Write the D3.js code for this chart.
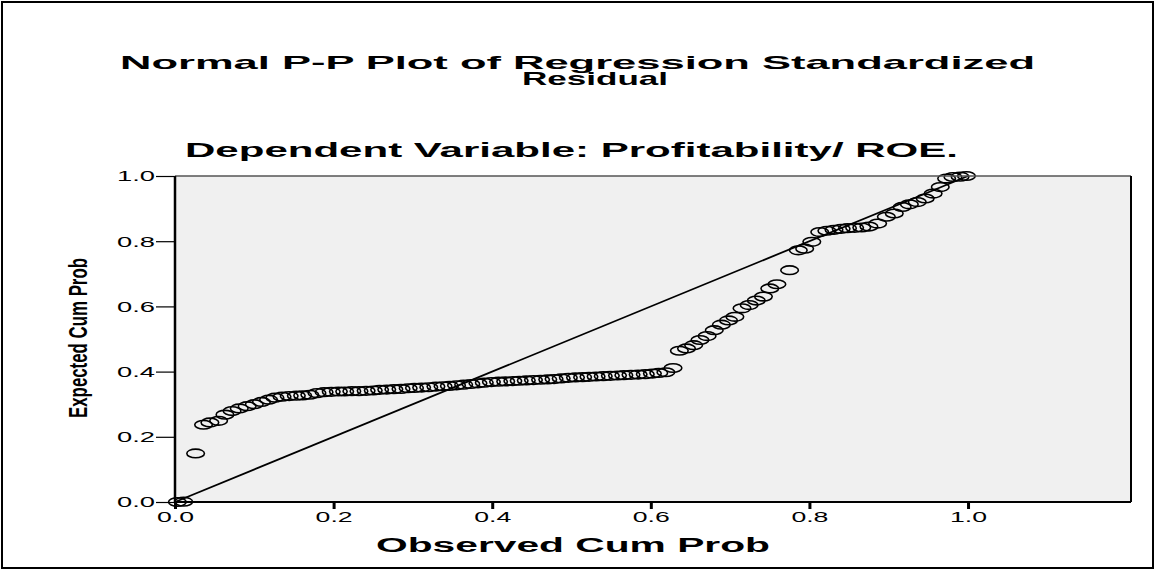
<!DOCTYPE html>
<html>
<head>
<meta charset="utf-8">
<script src="https://cdn.jsdelivr.net/npm/d3@7"></script>
<style>
html,body{margin:0;padding:0;background:#fff;}
svg{display:block;}
</style>
</head>
<body>
<svg id="chart" width="1155" height="570"></svg>
<script>
// ---- data ----
const titleLines = ["Normal P-P Plot of Regression Standardized", "Residual"];
const subtitle = "Dependent Variable: Profitability/ ROE.";
const xAxisTitle = "Observed Cum Prob";
const yAxisTitle = "Expected Cum Prob";
const xTicks = [0.0, 0.2, 0.4, 0.6, 0.8, 1.0];
const yTicks = [0.0, 0.2, 0.4, 0.6, 0.8, 1.0];
const refLine = [[0, 0], [1, 1]];

const obsCumProb = [
  0.003, 0.011, 0.026, 0.036, 0.044, 0.055, 0.063, 0.072, 0.081, 0.091, 0.100, 0.109, 0.118, 0.126,
  0.135, 0.144, 0.153, 0.161, 0.170, 0.179, 0.188, 0.197, 0.206, 0.214, 0.223, 0.232, 0.241, 0.250,
  0.258, 0.267, 0.276, 0.285, 0.294, 0.302, 0.311, 0.320, 0.329, 0.338, 0.346, 0.355, 0.364, 0.373,
  0.382, 0.390, 0.399, 0.408, 0.417, 0.426, 0.434, 0.443, 0.452, 0.461, 0.470, 0.478, 0.487, 0.496,
  0.505, 0.514, 0.522, 0.531, 0.540, 0.549, 0.558, 0.566, 0.575, 0.584, 0.593, 0.602, 0.610, 0.619,
  0.628, 0.636, 0.645, 0.654, 0.662, 0.671, 0.680, 0.689, 0.698, 0.706, 0.715, 0.724, 0.733, 0.742,
  0.750, 0.759, 0.775, 0.786, 0.794, 0.803, 0.813, 0.822, 0.831, 0.840, 0.848, 0.857, 0.866, 0.875,
  0.886, 0.897, 0.907, 0.917, 0.926, 0.936, 0.946, 0.956, 0.965, 0.973, 0.981, 0.990, 0.998
];
const expCumProb = [
  0.000, 0.001, 0.149, 0.237, 0.244, 0.249, 0.268, 0.279, 0.287, 0.294, 0.300, 0.307, 0.314, 0.320,
  0.323, 0.325, 0.326, 0.327, 0.329, 0.334, 0.337, 0.338, 0.339, 0.339, 0.340, 0.340, 0.341, 0.342,
  0.344, 0.345, 0.346, 0.347, 0.349, 0.350, 0.351, 0.352, 0.354, 0.355, 0.356, 0.358, 0.360, 0.362,
  0.364, 0.366, 0.368, 0.369, 0.370, 0.371, 0.372, 0.373, 0.374, 0.375, 0.376, 0.377, 0.379, 0.381,
  0.382, 0.383, 0.384, 0.385, 0.386, 0.387, 0.388, 0.389, 0.390, 0.391, 0.392, 0.394, 0.396, 0.398,
  0.411, 0.464, 0.471, 0.481, 0.497, 0.509, 0.527, 0.544, 0.557, 0.568, 0.594, 0.604, 0.618, 0.630,
  0.655, 0.668, 0.711, 0.772, 0.777, 0.798, 0.828, 0.832, 0.835, 0.838, 0.840, 0.841, 0.842, 0.845,
  0.854, 0.875, 0.885, 0.905, 0.913, 0.920, 0.931, 0.946, 0.966, 0.992, 0.997, 0.998, 1.000
];

// ---- layout ----
const svg = d3.select("#chart");
const W = 1155, H = 570;
const plot = {left: 175, right: 1131, top: 176, bottom: 502};
const SANS = "'Liberation Sans', Arial, sans-serif";

const x = d3.scaleLinear().domain([0, 1.2055]).range([plot.left, plot.right]);
const y = d3.scaleLinear().domain([0, 1]).range([plot.bottom, plot.top]);

// outer border
svg.append("rect").attr("x", 2).attr("y", 2).attr("width", W - 4).attr("height", H - 4)
  .attr("fill", "#fff").attr("stroke", "#000").attr("stroke-width", 2);

// plot background
svg.append("rect").attr("x", plot.left).attr("y", plot.top)
  .attr("width", plot.right - plot.left).attr("height", plot.bottom - plot.top)
  .attr("fill", "#f0f0f0");

// titles (stretched horizontally like the source image)
function stretchedText(str, cx, cy, len, size) {
  return svg.append("text").attr("x", cx).attr("y", cy)
    .attr("text-anchor", "middle")
    .style("font-family", SANS).style("font-size", size + "px").style("font-weight", "bold")
    .attr("fill", "#000")
    .attr("textLength", len).attr("lengthAdjust", "spacingAndGlyphs")
    .text(str);
}
stretchedText(titleLines[0], 577.5, 69, 915, 19);
stretchedText(titleLines[1], 595, 84.5, 146, 19);
stretchedText(subtitle, 571.5, 157, 773, 19.5);
stretchedText(xAxisTitle, 573, 552, 394, 19.5);

svg.append("text")
  .attr("transform", `translate(87,338) rotate(-90)`)
  .attr("text-anchor", "middle")
  .style("font-family", SANS).style("font-size", "25px").style("font-weight", "bold")
  .attr("fill", "#000")
  .attr("textLength", 160).attr("lengthAdjust", "spacingAndGlyphs")
  .text(yAxisTitle);

// reference line
svg.append("path")
  .attr("d", d3.line().x(d => x(d[0])).y(d => y(d[1]))(refLine))
  .attr("fill", "none").attr("stroke", "#000").attr("stroke-width", 1.8);

// points
const pts = obsCumProb.map((v, i) => ({o: v, e: expCumProb[i]}));
svg.append("g").selectAll("ellipse").data(pts).join("ellipse")
  .attr("cx", d => x(d.o)).attr("cy", d => y(d.e))
  .attr("rx", 8.8).attr("ry", 4.3)
  .attr("fill", "none").attr("stroke", "#000").attr("stroke-width", 1.6);

// frame top/right
svg.append("line").attr("x1", plot.left).attr("x2", plot.right).attr("y1", plot.top).attr("y2", plot.top)
  .attr("stroke", "#555").attr("stroke-width", 1.5);
svg.append("line").attr("x1", plot.right).attr("x2", plot.right).attr("y1", plot.top).attr("y2", plot.bottom)
  .attr("stroke", "#000").attr("stroke-width", 2);

// axes
const fmt = d3.format(".1f");
const yAxis = svg.append("g").attr("transform", `translate(${plot.left},0)`)
  .call(d3.axisLeft(y).tickValues(yTicks).tickFormat(fmt).tickSize(19).tickPadding(1));
yAxis.select(".domain").attr("stroke", "#000").attr("stroke-width", 2.5)
  .attr("d", `M0,${plot.top}V${plot.bottom}`);
yAxis.selectAll(".tick line").attr("stroke", "#000").attr("stroke-width", 1.2);
yAxis.selectAll(".tick text").attr("fill", "#000")
  .style("font-family", SANS).style("font-size", "15px")
  .attr("textLength", 38).attr("lengthAdjust", "spacingAndGlyphs");

const xAxis = svg.append("g").attr("transform", `translate(0,${plot.bottom})`)
  .call(d3.axisBottom(x).tickValues(xTicks).tickFormat(fmt).tickSize(7).tickPadding(2));
xAxis.select(".domain").attr("stroke", "#000").attr("stroke-width", 2)
  .attr("d", `M${plot.left},0H${plot.right}`);
xAxis.selectAll(".tick line").attr("stroke", "#000").attr("stroke-width", 3);
xAxis.selectAll(".tick text").attr("fill", "#000")
  .style("font-family", SANS).style("font-size", "15px")
  .attr("textLength", 37).attr("lengthAdjust", "spacingAndGlyphs");
</script>
</body>
</html>
